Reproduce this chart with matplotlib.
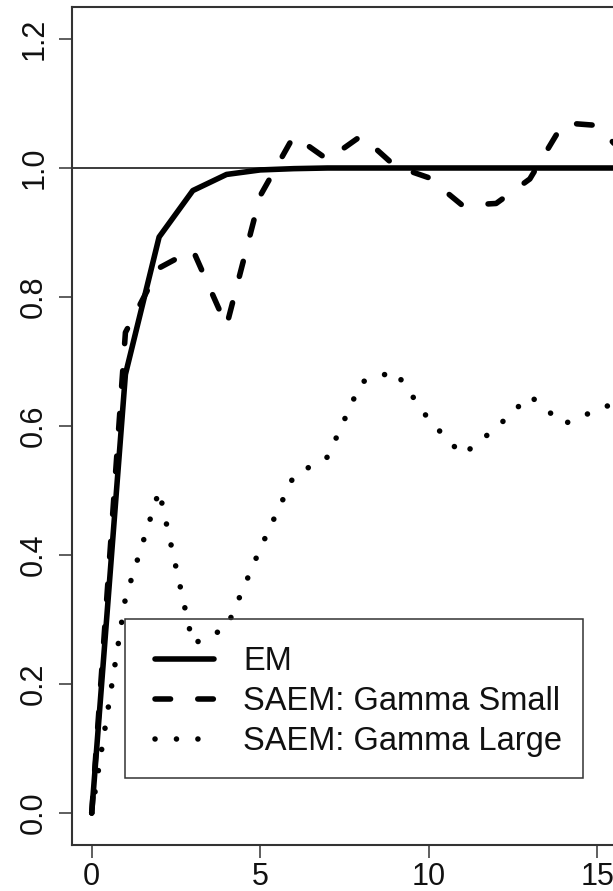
import matplotlib
matplotlib.use("Agg")
import matplotlib.pyplot as plt
from matplotlib.lines import Line2D
from matplotlib.patches import Rectangle

# ---- data ----
iterations = list(range(17))
em = [0.0, 0.68, 0.893, 0.965, 0.99, 0.997, 0.999, 1.0, 1.0, 1.0, 1.0,
      1.0, 1.0, 1.0, 1.0, 1.0, 1.0]
saem_gamma_small = [0.0, 0.745, 0.845, 0.873, 0.755, 0.957, 1.05, 1.013,
                    1.05, 1.003, 0.985, 0.942, 0.945, 0.983, 1.07, 1.066, 1.01]
saem_gamma_large = [0.0, 0.333, 0.50, 0.262, 0.287, 0.41, 0.523, 0.552,
                    0.668, 0.685, 0.61, 0.555, 0.597, 0.647, 0.603, 0.625, 0.645]
reference_level = 1.0
legend_labels = ["EM", "SAEM: Gamma Small", "SAEM: Gamma Large"]
xticks = [0, 5, 10, 15]
yticks = [0.0, 0.2, 0.4, 0.6, 0.8, 1.0, 1.2]
ytick_labels = ["0.0", "0.2", "0.4", "0.6", "0.8", "1.0", "1.2"]

# ---- figure ----
plt.rcParams["font.family"] = ["Liberation Sans", "DejaVu Sans"]
W, H = 613, 891
fig = plt.figure(figsize=(W / 100, H / 100), dpi=100)
fig.patch.set_facecolor("white")

ax_left, ax_right, ax_top, ax_bottom = 72, 637, 7, 845
ax = fig.add_axes([ax_left / W, 1 - ax_bottom / H,
                   (ax_right - ax_left) / W, (ax_bottom - ax_top) / H])

LW = 4.0  # points
line_styles = [
    dict(linestyle="-", solid_capstyle="round", solid_joinstyle="round"),
    dict(linestyle=(0, (2.8, 4.9)), dash_capstyle="round", dash_joinstyle="round"),
    dict(linestyle=(0, (0.01, 3.85)), dash_capstyle="round", dash_joinstyle="round"),
]
series = [em, saem_gamma_small, saem_gamma_large]

ax.axhline(reference_level, color="#1a1a1a", lw=1.2, zorder=2)
for ys, st in zip(series, line_styles):
    ax.plot(iterations, ys, color="black", lw=LW, zorder=3, **st)

spine_color = "#333333"
for s in ax.spines.values():
    s.set_color(spine_color)
    s.set_linewidth(1.5)

ax.set_xticks(xticks)
ax.set_xticklabels([str(t) for t in xticks])
ax.set_yticks(yticks)
ax.set_yticklabels(ytick_labels, rotation=90, va="center")
ax.tick_params(axis="both", direction="out", length=9.4, width=1.1,
               color=spine_color, labelsize=22, labelcolor="#111111")
ax.tick_params(axis="x", pad=2.5)
ax.tick_params(axis="y", pad=7)
ax.set_xlim(-0.585, 16.18)
ax.set_ylim(-0.0496, 1.2496)

# ---- legend (drawn as an open box in pixel coordinates) ----
def fx(px):
    return px / W


def fy(py):
    return 1 - py / H


box = Rectangle((fx(125), fy(778)), fx(583) - fx(125), fy(619) - fy(778),
                transform=fig.transFigure, facecolor="none",
                edgecolor=spine_color, lw=1.1, zorder=5)
fig.add_artist(box)
row_centers = [659, 698.5, 738.5]
for label, st, yc in zip(legend_labels, line_styles, row_centers):
    ln = Line2D([fx(155), fx(214)], [fy(yc), fy(yc)], transform=fig.transFigure,
                color="black", lw=LW, zorder=6, **st)
    fig.add_artist(ln)
    fig.text(fx(243), fy(yc + 11.5), label, fontsize=23.5, color="#111111",
             ha="left", va="baseline", zorder=6)

fig.savefig("out.png", dpi=100)
